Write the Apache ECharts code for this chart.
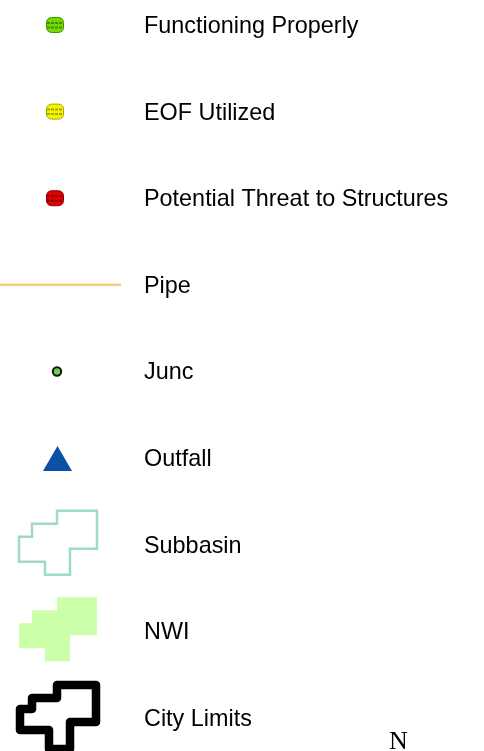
<!DOCTYPE html>
<html>
<head>
<meta charset="utf-8">
<script src="https://cdn.jsdelivr.net/npm/echarts@6/dist/echarts.min.js"></script>
<style>
  html, body { margin: 0; padding: 0; background: #fff; }
  #chart { width: 484px; height: 751px; }
</style>
</head>
<body>
<div id="chart"></div>
<script>
// legend rows, top to bottom
const labels = [
  'Functioning Properly',
  'EOF Utilized',
  'Potential Threat to Structures',
  'Pipe',
  'Junc',
  'Outfall',
  'Subbasin',
  'NWI',
  'City Limits'
]
const kinds = ['pill', 'pill', 'pill', 'line', 'dot', 'triangle', 'outline', 'area', 'border']
const rows = labels.map((l, i) => i)

// step shape used by the polygon swatches (offsets from row centre)
const stepShape = [[57, -34], [97, -34], [97, 4], [70, 4], [70, 30], [45, 30], [45, 17], [19, 17], [19, -8], [32, -8], [32, -21], [57, -21]]

const pillColors = [
  { fill: '#7ad600', edge: '#3c9600' },
  { fill: '#f4f400', edge: '#a6a600' },
  { fill: '#e40000', edge: '#8a0000' }
]

const chart = echarts.init(document.getElementById('chart'))

function drawSwatch (kind, idx, cy) {
  if (kind === 'pill') {
    const c = pillColors[idx]
    return [
      { type: 'rect', shape: { x: 46.5, y: cy - 7.5, width: 17, height: 15, r: 5 }, style: { fill: c.fill, stroke: c.edge, lineWidth: 1 } },
      { type: 'line', shape: { x1: 47, y1: cy - 2, x2: 63, y2: cy - 2 }, style: { stroke: c.edge, lineWidth: 2, lineDash: [3, 1] } },
      { type: 'line', shape: { x1: 47, y1: cy + 2.5, x2: 63, y2: cy + 2.5 }, style: { stroke: c.edge, lineWidth: 2, lineDash: [3, 1] } }
    ]
  }
  if (kind === 'line') {
    return [{ type: 'line', shape: { x1: 0, y1: cy, x2: 121, y2: cy }, style: { stroke: '#f5cd7c', lineWidth: 2.5 } }]
  }
  if (kind === 'dot') {
    return [{ type: 'circle', shape: { cx: 57, cy: cy, r: 4.2 }, style: { fill: '#6fcf4c', stroke: '#111', lineWidth: 2 } }]
  }
  if (kind === 'triangle') {
    return [{ type: 'polygon', shape: { points: [[43, cy + 13], [57.5, cy - 12], [72, cy + 13]] }, style: { fill: '#0b4fa6' } }]
  }
  const pts = stepShape.map(p => [p[0], cy + p[1]])
  if (kind === 'outline') {
    return [{ type: 'polygon', shape: { points: pts }, style: { fill: 'none', stroke: '#a0dac4', lineWidth: 2.5 } }]
  }
  if (kind === 'area') {
    return [{ type: 'polygon', shape: { points: pts }, style: { fill: '#ccffaa' } }]
  }
  const cityPts = [[57, -33], [96, -33], [96, 4], [70, 4], [70, 31], [49, 31], [49, 12], [20, 12], [20, -9], [32, -9], [32, -20], [57, -20]]
  return [{ type: 'polygon', shape: { points: cityPts.map(p => [p[0], cy + p[1]]) }, style: { fill: 'none', stroke: '#000', lineWidth: 8.5, lineJoin: 'round' } }]
}

const option = {
  animation: false,
  grid: { left: 0, right: 0, top: 0, bottom: 0 },
  xAxis: { type: 'value', min: 0, max: 484, show: false },
  // row i sits at 25 + 86.6 * i px
  yAxis: { type: 'value', min: -0.2886, max: 8.381, inverse: true, show: false },
  series: [{
    type: 'custom',
    data: rows.map(i => [0, i]),
    encode: { x: 0, y: 1 },
    renderItem (params, api) {
      const i = params.dataIndex
      const pt = api.coord([0, api.value(1)])
      const cy = pt[1]
      const children = drawSwatch(kinds[i], i, cy)
      children.push({
        type: 'text',
        style: {
          x: 144, y: cy + 1.5, text: labels[i], fill: '#000',
          font: '23.4px "Liberation Sans", Arial, sans-serif',
          textVerticalAlign: 'middle', verticalAlign: 'middle'
        }
      })
      return { type: 'group', children }
    }
  }],
  graphic: [{
    type: 'text', left: 389, top: 729,
    style: { text: 'N', fill: '#000', font: '26px "Liberation Serif", "Times New Roman", serif' }
  }]
}
chart.setOption(option)
</script>
</body>
</html>
